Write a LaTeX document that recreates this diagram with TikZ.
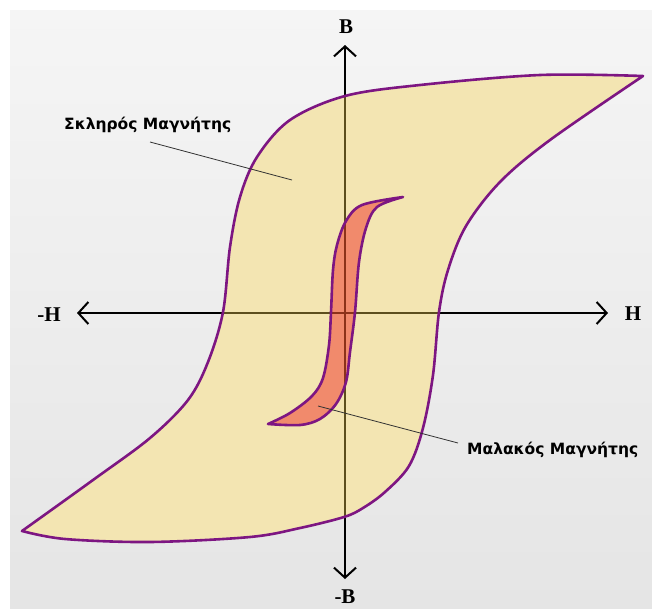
\documentclass[tikz,border=0pt]{standalone}
\usepackage{fontspec}
\setmainfont{Liberation Serif}
\newfontfamily\lblfont{DejaVu Sans}
\usetikzlibrary{arrows.meta}
\definecolor{bgA}{RGB}{245,245,245}
\definecolor{bgB}{RGB}{229,229,229}
\definecolor{hardfill}{RGB}{243,229,178}
\definecolor{softfill}{RGB}{241,138,108}
\definecolor{loopline}{RGB}{125,22,130}
\definecolor{axolive}{RGB}{92,78,30}
\definecolor{axred}{RGB}{140,50,25}
\definecolor{leader}{RGB}{50,50,50}
\newcommand\outerloop{plot[smooth,tension=0.55] coordinates {(22,531) (93,480) (150,438) (188,400) (208,362) (223,312) (230,247) (240,197) (257,157) (290,120) (345,96) (420,85) (540,75) (643,76)}
 -- plot[smooth,tension=0.55] coordinates {(643,76) (550,140) (500,182) (466,226) (448,270) (439,312) (433,375) (423,428) (409,466) (385,492) (363,508) (344,517) (300,528) (250,537) (150,542) (65,539) (22,531)} -- cycle}
\newcommand\innerloop{plot[smooth,tension=0.55] coordinates {(268,424) (290,413) (312,396) (323,378) (329,345) (331,312) (333,270) (337,245) (346,221) (362,205) (403,197)}
 -- plot[smooth,tension=0.55] coordinates {(403,197) (377,207) (366,228) (359,262) (355,312) (350,352) (346,382) (336,404) (320,419) (300,425) (268,424)} -- cycle}
\tikzset{
  axisline/.style={line width=2pt,-{Straight Barb[length=10pt,width=22pt,line width=2pt]}},
  axlabel/.style={font=\fontsize{21}{23}\selectfont\bfseries,inner sep=0pt},
  loopdraw/.style={draw=loopline,line width=2.6pt,line join=round},
  leaderline/.style={draw=leader,line width=0.8pt},
  callout/.style={font=\lblfont\bfseries\fontsize{15.5}{19}\selectfont,inner sep=0pt,anchor=west}
}
\begin{document}
\begin{tikzpicture}[x=1pt,y=-1pt]
\useasboundingbox (0,0) rectangle (652,608);
\fill[white] (0,0) rectangle (652,608);
\shade[left color=bgA,right color=bgB,shading angle=0] (10,10) rectangle (652,608);
% axis end points
\coordinate (O) at (345,313);
\coordinate (Btip) at (345,45);
\coordinate (Bneg) at (345,579);
\coordinate (Htip) at (608,313);
\coordinate (Hneg) at (77,313);
% axes (black)
\draw[axisline] (O) -- (Btip);
\draw[axisline] (O) -- (Bneg);
\draw[axisline] (O) -- (Htip);
\draw[axisline] (O) -- (Hneg);
% hard magnet loop
\fill[hardfill] \outerloop;
\begin{scope}
  \clip \outerloop;
  \draw[axolive,line width=2pt] (Btip) -- (Bneg);
  \draw[axolive,line width=2pt] (Hneg) -- (Htip);
\end{scope}
\draw[loopdraw] \outerloop;
% soft magnet loop
\fill[softfill] \innerloop;
\begin{scope}
  \clip \innerloop;
  \draw[axred,line width=2pt] (Btip) -- (Bneg);
  \draw[axred,line width=2pt] (Hneg) -- (Htip);
\end{scope}
\draw[loopdraw] \innerloop;
% axis labels
\node[axlabel] (lB) at (346,27) {B};
\node[axlabel] (lBn) at (345,597) {-B};
\node[axlabel] (lH) at (633,314) {H};
\node[axlabel] (lHn) at (49,315) {-H};
% callouts
\node[callout] (hard) at (64,125) {Σκληρός Μαγνήτης};
\node[callout] (soft) at (467,450) {Μαλακός Μαγνήτης};
\coordinate (hardA) at (150,142);
\coordinate (hardB) at (292,180);
\coordinate (softA) at (318,406);
\coordinate (softB) at (458,443);
\draw[leaderline] (hardA) -- (hardB);
\draw[leaderline] (softA) -- (softB);
\end{tikzpicture}
\end{document}
